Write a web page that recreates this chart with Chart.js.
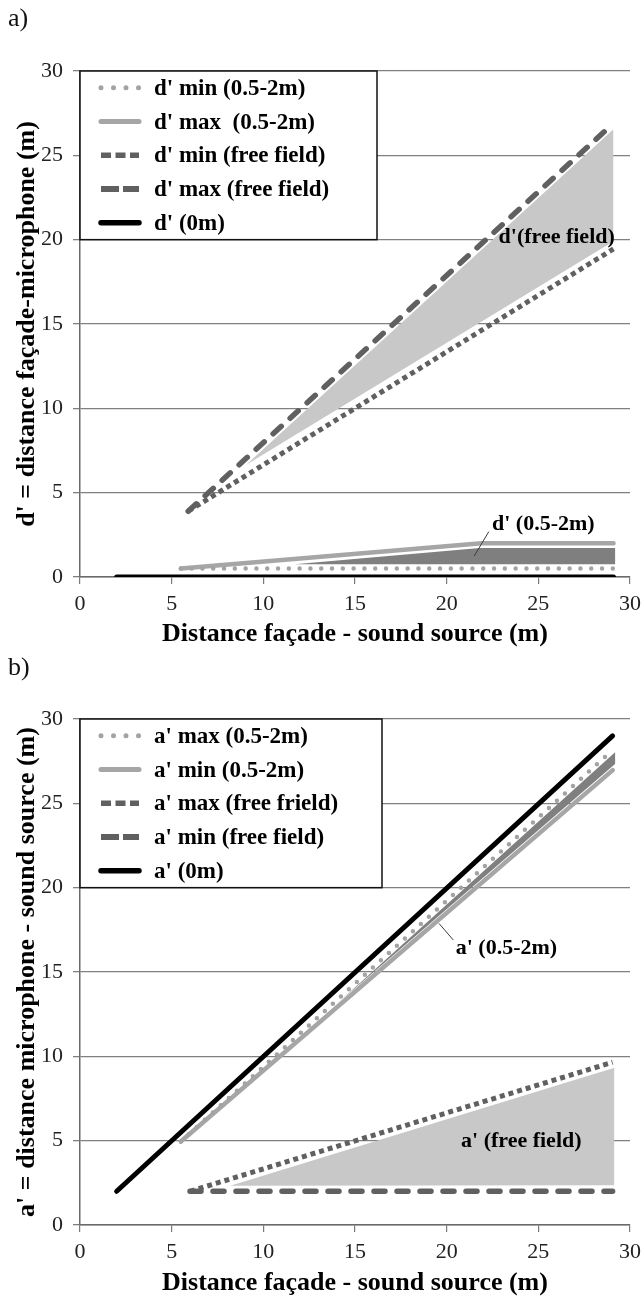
<!DOCTYPE html>
<html><head><meta charset="utf-8">
<script src="https://cdn.jsdelivr.net/npm/chart.js@4.4.0/dist/chart.umd.min.js"></script>
<style>
html,body{margin:0;padding:0;background:#fff;}
body{width:642px;height:1296px;position:relative;overflow:hidden;font-family:"Liberation Serif",serif;}
.panel{position:absolute;left:0;width:642px;height:650px;}
.lab{position:absolute;left:8px;font-size:26px;line-height:26px;color:#111;font-family:"Liberation Serif",serif;}
</style></head><body>
<div class="panel" style="top:0"><canvas id="c1" width="642" height="650"></canvas></div>
<div class="panel" style="top:646px"><canvas id="c2" width="642" height="650"></canvas></div>
<div class="lab" style="top:5px">a)</div>
<div class="lab" style="top:654px">b)</div>
<script>
// ---------- tick labels ----------
const xTicks = [0, 5, 10, 15, 20, 25, 30];
const yTicks = [0, 5, 10, 15, 20, 25, 30];

// ---------- panel a : d' ----------
const aLegend = ["d' min (0.5-2m)", "d' max  (0.5-2m)", "d' min (free field)", "d' max (free field)", "d' (0m)"];
const dMinNearX = [5.5, 29.1];        const dMinNearY = [0.5, 0.5];
const dMaxNearX = [5.5, 21.9, 29.1];  const dMaxNearY = [0.5, 2.0, 2.0];
const dMinFreeX = [5.9, 29.1];        const dMinFreeY = [3.9, 19.45];
const dMaxFreeX = [5.9, 29.0];        const dMaxFreeY = [3.9, 26.8];
const d0X = [2.0, 29.1];              const d0Y = [0, 0];
// shaded ranges (panel a)
const dFreeBandX = [9.05, 29.1];      const dFreeBandTop = [6.64, 26.55];  const dFreeBandBot = [6.64, 19.9];
const dNearTopX = [11.7, 21.8, 29.2]; const dNearTopY = [0.75, 1.72, 1.72];
const dNearBotX = [11.7, 29.2];       const dNearBotY = [0.75, 0.75];

// ---------- panel b : a' ----------
const bLegend = ["a' max (0.5-2m)", "a' min (0.5-2m)", "a' max (free frield)", "a' min (free field)", "a' (0m)"];
const aMaxNearX = [5.5, 29.06];  const aMaxNearY = [4.95, 28.16];
const aMinNearX = [5.5, 29.06];  const aMinNearY = [4.95, 26.97];
const aMaxFreeX = [6.0, 29.05];  const aMaxFreeY = [2.0, 9.65];
const aMinFreeX = [6.0, 29.05];  const aMinFreeY = [2.0, 2.0];
const a0X = [2.0, 29.05];        const a0Y = [2.0, 29.0];
// shaded ranges (panel b)
const aNearBandX = [14.0, 29.2]; const aNearBandTop = [13.1, 28.05]; const aNearBandBot = [13.1, 27.35];
const aFreeBandX = [8.2, 29.15]; const aFreeBandTop = [2.32, 9.32];  const aFreeBandBot = [2.32, 2.35];

// ---------- texts ----------
const xTitle = "Distance façade - sound source (m)";
const yTitleA = "d' = distance façade-microphone (m)";
const yTitleB = "a' = distance microphone - sound source (m)";

const pts = (xs, ys) => xs.map((x, i) => ({x: x, y: ys[i]}));

const SERIF = "'Liberation Serif', 'Times New Roman', serif";
const STY = {
  lightDot:   {borderColor: '#a3a3a3', borderWidth: 4.5, borderDash: [0, 10.8], borderCapStyle: 'round', legendDash: [0, 12.5]},
  lightSolid: {borderColor: '#a6a6a6', borderWidth: 4.5, borderCapStyle: 'round'},
  darkSquare: {borderColor: '#606060', borderWidth: 5, borderDash: [5, 4], borderCapStyle: 'butt', legendDash: [10, 4.5]},
  darkDash:   {borderColor: '#606060', borderWidth: 5.5, borderDash: [11, 12], borderCapStyle: 'round', legendDash: [18, 4], legendCap: 'butt'},
  black:      {borderColor: '#000000', borderWidth: 5, borderCapStyle: 'round'}
};

function lineDs(label, data, sty) {
  return Object.assign({label: label, data: data, pointRadius: 0, fill: false, tension: 0, order: 1, inLegend: true}, sty);
}
function bandDs(top, bot, color) {
  return [
    {data: top, borderWidth: 0, borderColor: 'rgba(0,0,0,0)', backgroundColor: color, pointRadius: 0, fill: '+1', order: 10, tension: 0},
    {data: bot, borderWidth: 0, borderColor: 'rgba(0,0,0,0)', backgroundColor: color, pointRadius: 0, fill: false, order: 10, tension: 0}
  ];
}

const overlay = {
  id: 'overlay',
  afterDatasetsDraw(chart, args, opts) {
    const ctx = chart.ctx, xs = chart.scales.x, ys = chart.scales.y;
    ctx.save();
    (opts.notes || []).forEach(n => {
      ctx.font = 'bold 22px ' + SERIF;
      ctx.textAlign = 'center';
      ctx.textBaseline = 'middle';
      const px = xs.getPixelForValue(n.x), py = ys.getPixelForValue(n.y);
      ctx.fillStyle = '#000';
      ctx.fillText(n.text, px, py);
      if (n.ptr) {
        ctx.beginPath();
        ctx.strokeStyle = '#3a3a3a';
        ctx.lineWidth = 1;
        ctx.moveTo(xs.getPixelForValue(n.ptr[0]), ys.getPixelForValue(n.ptr[1]));
        ctx.lineTo(xs.getPixelForValue(n.ptr[2]), ys.getPixelForValue(n.ptr[3]));
        ctx.stroke();
      }
    });
    const L = opts.legend;
    const left = xs.getPixelForValue(L.x0), top = ys.getPixelForValue(L.y0), bottom = ys.getPixelForValue(L.y1);
    const w = L.width;
    ctx.fillStyle = '#fff';
    ctx.fillRect(left, top, w, bottom - top);
    ctx.strokeStyle = '#111';
    ctx.lineWidth = 1.5;
    ctx.strokeRect(left, top, w, bottom - top);
    const items = chart.data.datasets.filter(d => d.inLegend);
    const rowH = (bottom - top) / items.length;
    items.forEach((d, i) => {
      const cy = top + rowH * (i + 0.5);
      ctx.beginPath();
      ctx.strokeStyle = d.borderColor;
      ctx.lineWidth = d.borderWidth + 0.5;
      ctx.setLineDash(d.legendDash || d.borderDash || []);
      ctx.lineCap = d.legendCap || d.borderCapStyle || 'butt';
      ctx.moveTo(left + 21, cy);
      ctx.lineTo(left + 59, cy);
      ctx.stroke();
      ctx.setLineDash([]);
      ctx.font = 'bold 23px ' + SERIF;
      ctx.textAlign = 'left';
      ctx.textBaseline = 'middle';
      ctx.fillStyle = '#000';
      ctx.fillText(d.label, left + 74, cy + 1);
    });
    ctx.restore();
  }
};

function makeChart(id, datasets, yTitle, padTop, xHeight, titlePadBottom, notes, legendWidth) {
  return new Chart(document.getElementById(id), {
    type: 'line',
    data: {datasets: datasets},
    options: {
      responsive: false, animation: false, devicePixelRatio: 1,
      layout: {padding: {top: padTop, right: 12, left: 0, bottom: 0}},
      plugins: {
        legend: {display: false}, tooltip: {enabled: false},
        overlay: {notes: notes, legend: {x0: 0, y0: 30, y1: 20, width: legendWidth}}
      },
      scales: {
        x: {
          type: 'linear', min: 0, max: 30,
          afterBuildTicks: s => { s.ticks = xTicks.map(v => ({value: v})); },
          afterFit: s => { s.height = xHeight; s.paddingRight = 0; s.paddingLeft = 0; },
          grid: {drawOnChartArea: false, drawTicks: true, tickLength: 7, color: '#7a7a7a', lineWidth: 1.2},
          border: {display: true, color: '#6a6a6a', width: 1.5},
          ticks: {font: {family: SERIF, size: 22}, color: '#222', padding: 7, maxRotation: 0},
          title: {display: true, text: xTitle, font: {family: SERIF, size: 26, weight: 'bold', lineHeight: 1}, color: '#000', padding: {top: 0, bottom: titlePadBottom}}
        },
        y: {
          type: 'linear', min: 0, max: 30,
          afterBuildTicks: s => { s.ticks = yTicks.map(v => ({value: v})); },
          afterFit: s => { s.width = 80; s.paddingTop = 0; s.paddingBottom = 0; },
          grid: {color: '#808080', lineWidth: 1.3, tickLength: 7},
          border: {display: true, color: '#6a6a6a', width: 1.5},
          ticks: {font: {family: SERIF, size: 22}, color: '#222', padding: 10},
          title: {display: true, text: yTitle, font: {family: SERIF, size: 26, weight: 'bold', lineHeight: 1}, color: '#000', padding: {top: 14, bottom: 0}}
        }
      }
    },
    plugins: [overlay]
  });
}

const dsA = [
  lineDs(aLegend[0], pts(dMinNearX, dMinNearY), STY.lightDot),
  lineDs(aLegend[1], pts(dMaxNearX, dMaxNearY), STY.lightSolid),
  lineDs(aLegend[2], pts(dMinFreeX, dMinFreeY), STY.darkSquare),
  lineDs(aLegend[3], pts(dMaxFreeX, dMaxFreeY), STY.darkDash),
  lineDs(aLegend[4], pts(d0X, d0Y), STY.black)
].concat(
  bandDs(pts(dFreeBandX, dFreeBandTop), pts(dFreeBandX, dFreeBandBot), '#c8c8c8'),
  bandDs(pts(dNearTopX, dNearTopY), pts(dNearBotX, dNearBotY), '#7f7f7f')
);
makeChart('c1', dsA, yTitleA, 71, 73, 3, [
  {text: "d'(free field)", x: 26.0, y: 20.15},
  {text: "d' (0.5-2m)", x: 25.27, y: 3.12, ptr: [22.3, 2.69, 21.5, 1.24]}
], 297);

const dsB = [
  lineDs(bLegend[0], pts(aMaxNearX, aMaxNearY), STY.lightDot),
  lineDs(bLegend[1], pts(aMinNearX, aMinNearY), STY.lightSolid),
  lineDs(bLegend[2], pts(aMaxFreeX, aMaxFreeY), STY.darkSquare),
  lineDs(bLegend[3], pts(aMinFreeX, aMinFreeY), STY.darkDash),
  lineDs(bLegend[4], pts(a0X, a0Y), STY.black)
].concat(
  bandDs(pts(aFreeBandX, aFreeBandTop), pts(aFreeBandX, aFreeBandBot), '#c8c8c8'),
  bandDs(pts(aNearBandX, aNearBandTop), pts(aNearBandX, aNearBandBot), '#7f7f7f')
);
makeChart('c2', dsB, yTitleB, 73, 71, 0, [
  {text: "a' (0.5-2m)", x: 23.26, y: 16.4, ptr: [19.58, 17.88, 20.36, 16.9]},
  {text: "a' (free field)", x: 24.07, y: 4.94}
], 302);
</script>
</body></html>
